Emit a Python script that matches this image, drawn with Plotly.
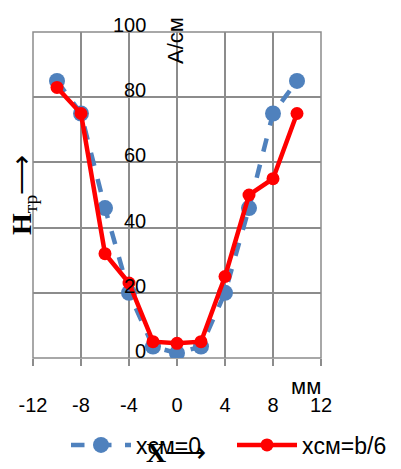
import plotly.graph_objects as go

x_mm = [-10, -8, -6, -4, -2, 0, 2, 4, 6, 8, 10]
h_xcm0 = [85, 75, 46, 20, 3.5, 1.5, 3.5, 20, 46, 75, 85]
h_xcm_b6 = [83, 75, 32, 23, 5, 4.5, 5, 25, 50, 55, 75]
x_ticks = [-12, -8, -4, 0, 4, 8, 12]
y_ticks = [0, 20, 40, 60, 80, 100]
name0 = "xсм=0"
name1 = "xсм=b/6"

GRID = "#8c8c8c"
FONT = "Liberation Sans"
TICK = 20

OFF = 8  # page body margin offset
W, H = 401, 469
L, R, T, B = 33 - OFF, 80 + OFF, 32 - OFF, 111 + OFF
pw, ph = W - L - R, H - T - B

def px(xp):
    return (xp - OFF - L) / pw

def py(yp):
    return (H - B - (yp - OFF)) / ph

fig = go.Figure()
fig.add_trace(go.Scatter(
    x=x_mm, y=h_xcm0, mode="lines+markers", name=name0, legend="legend",
    line=dict(color="#4f81bd", width=4.5, dash="dash"),
    marker=dict(color="#4f81bd", size=16),
))
fig.add_trace(go.Scatter(
    x=x_mm, y=h_xcm_b6, mode="lines+markers", name=name1, legend="legend2",
    line=dict(color="#ff0000", width=4.5),
    marker=dict(color="#ff0000", size=13),
))

leg_common = dict(orientation="h", xanchor="left", yanchor="middle", itemwidth=60,
                  font=dict(size=23, family=FONT), bgcolor="rgba(0,0,0,0)")

fig.update_layout(
    width=W, height=H,
    margin=dict(l=L, r=R, t=T, b=B, autoexpand=False),
    paper_bgcolor="white", plot_bgcolor="white",
    font=dict(family=FONT, size=TICK, color="black"),
    showlegend=True,
    legend=dict(x=px(66), y=py(445), **leg_common),
    legend2=dict(x=px(232), y=py(445), **leg_common),
    xaxis=dict(range=[-12, 12], tickvals=x_ticks, ticktext=[str(v) for v in x_ticks],
               showgrid=True, gridcolor=GRID, gridwidth=1.5,
               ticks="outside", ticklen=7, tickcolor=GRID, tickwidth=1.5,
               ticklabelstandoff=22, zeroline=False, showline=False,
               automargin=False, tickfont=dict(size=TICK)),
    yaxis=dict(range=[0, 100], tickvals=y_ticks,
               showgrid=True, gridcolor=GRID, gridwidth=1.5,
               showticklabels=False,
               zeroline=False, showline=False, ticks="",
               automargin=False),
)

# y tick labels placed beside the x=0 line, through the data scale
for v in y_ticks:
    fig.add_annotation(text=str(v), x=0, y=v, xref="x", yref="y",
                       showarrow=False, xanchor="right", yanchor="middle",
                       xshift=-29, yshift=7, font=dict(size=TICK, family=FONT))

fig.add_shape(type="rect", xref="paper", yref="paper", x0=0, x1=1, y0=0, y1=1,
              line=dict(color=GRID, width=1.5), layer="below")

fig.add_annotation(text="A/см", x=px(176), y=py(41), xref="paper", yref="paper",
                   showarrow=False, textangle=-90, font=dict(size=22, family=FONT),
                   xanchor="center", yanchor="middle")
fig.add_annotation(text="мм", x=px(306), y=py(386), xref="paper", yref="paper",
                   showarrow=False, font=dict(size=22, family=FONT),
                   xanchor="center", yanchor="middle")
fig.add_annotation(text="<b>H</b><sub>тр</sub>⟶", x=px(23), y=py(195), xref="paper", yref="paper",
                   showarrow=False, textangle=-90,
                   font=dict(size=28, family="Liberation Serif"),
                   xanchor="center", yanchor="middle")
fig.add_annotation(text="<b>X</b>⟶", x=px(176), y=py(452), xref="paper", yref="paper",
                   showarrow=False,
                   font=dict(size=28, family="Liberation Serif"),
                   xanchor="center", yanchor="middle")

fig.write_html("out.html")
